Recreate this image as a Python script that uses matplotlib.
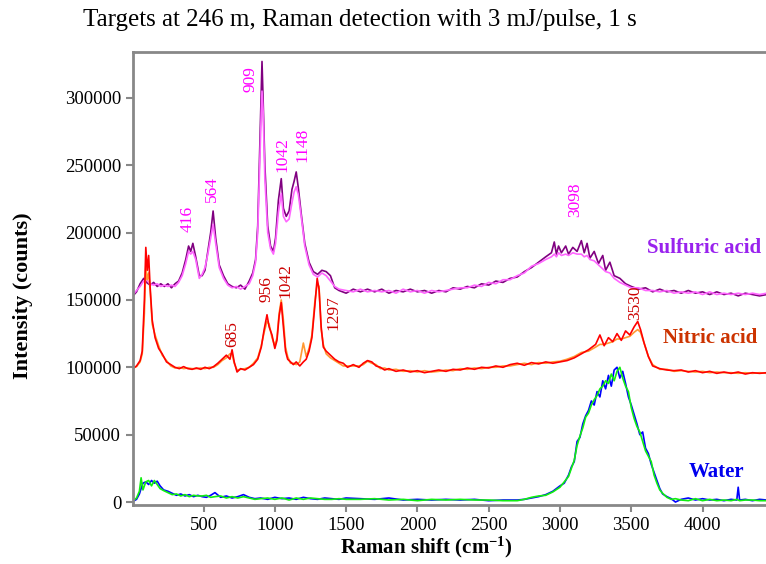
import matplotlib
matplotlib.use("Agg")
import matplotlib.pyplot as plt

plt.rcParams['font.family'] = ['Liberation Serif', 'DejaVu Serif']
plt.rcParams['mathtext.fontset'] = 'custom'
plt.rcParams['mathtext.rm'] = 'Liberation Serif'
plt.rcParams['mathtext.bf'] = 'Liberation Serif:bold'
plt.rcParams['mathtext.default'] = 'bf'

# Sulfuric acid, two acquisitions (dark / light)
S_X = [5, 30, 55, 80, 100, 125, 150, 175, 200, 225,
       250, 275, 300, 325, 350, 375, 395, 410, 425, 445,
       470, 490, 510, 530, 550, 567, 585, 610, 640, 670,
       700, 730, 760, 790, 820, 845, 865, 880, 895, 905,
       910, 918, 930, 950, 970, 990, 1005, 1025, 1045, 1060,
       1080, 1100, 1120, 1135, 1150, 1165, 1185, 1210, 1240, 1270,
       1300, 1330, 1360, 1390, 1420, 1450, 1500, 1550, 1600, 1650,
       1700, 1750, 1800, 1850, 1900, 1950, 2000, 2050, 2100, 2150,
       2200, 2250, 2300, 2350, 2400, 2450, 2500, 2550, 2600, 2650,
       2700, 2750, 2800, 2850, 2900, 2940, 2960, 2975, 2990, 3010,
       3040, 3060, 3090, 3120, 3150, 3170, 3190, 3210, 3240, 3270,
       3300, 3320, 3350, 3380, 3420, 3460, 3500, 3550, 3600, 3650,
       3700, 3750, 3800, 3850, 3900, 3950, 4000, 4050, 4100, 4150,
       4200, 4250, 4300, 4350, 4400, 4450]
S_DARK = [153000, 156000, 162000, 166000, 163000, 161000, 163000, 160000, 162000, 160000,
          162000, 159000, 162000, 164000, 170000, 180000, 190000, 186000, 192000, 182000,
          168000, 168000, 172000, 186000, 200000, 216000, 196000, 176000, 168000, 162000,
          160000, 159000, 161000, 158000, 164000, 170000, 180000, 205000, 265000, 305000,
          327000, 298000, 250000, 205000, 190000, 186000, 196000, 224000, 240000, 218000,
          212000, 216000, 232000, 238000, 245000, 233000, 214000, 192000, 178000, 171000,
          169000, 172000, 171000, 168000, 159000, 157000, 155000, 158000, 156000, 158000,
          156000, 158000, 155000, 157000, 156000, 158000, 156000, 157000, 155000, 157000,
          156000, 159000, 158000, 160000, 159000, 162000, 161000, 164000, 163000, 166000,
          167000, 171000, 174000, 178000, 182000, 185000, 193000, 184000, 190000, 185000,
          190000, 184000, 189000, 186000, 194000, 185000, 192000, 181000, 186000, 177000,
          183000, 172000, 178000, 168000, 166000, 162000, 160000, 158000, 159000, 156000,
          158000, 156000, 157000, 155000, 157000, 155000, 156000, 154000, 156000, 154000,
          155000, 153000, 155000, 154000, 153000, 154000]
S_LIGHT = [154000, 157000, 160000, 164000, 165000, 162000, 161000, 162000, 160000, 161000,
           160000, 161000, 160000, 163000, 168000, 177000, 186000, 184000, 186000, 180000,
           166000, 169000, 174000, 184000, 196000, 206000, 192000, 174000, 166000, 161000,
           159000, 160000, 158000, 160000, 162000, 168000, 178000, 200000, 255000, 290000,
           305000, 290000, 240000, 200000, 188000, 184000, 192000, 215000, 229000, 212000,
           208000, 210000, 222000, 230000, 234000, 228000, 212000, 190000, 176000, 169000,
           167000, 170000, 168000, 164000, 160000, 158000, 157000, 156000, 158000, 156000,
           157000, 156000, 157000, 155000, 158000, 156000, 157000, 155000, 157000, 156000,
           157000, 158000, 159000, 159000, 161000, 160000, 163000, 162000, 165000, 165000,
           168000, 170000, 175000, 177000, 180000, 182000, 184000, 182000, 185000, 183000,
           184000, 183000, 185000, 184000, 184000, 182000, 183000, 180000, 179000, 176000,
           173000, 171000, 170000, 166000, 163000, 161000, 159000, 159000, 157000, 157000,
           156000, 157000, 155000, 156000, 155000, 156000, 154000, 156000, 154000, 155000,
           154000, 155000, 154000, 155000, 154000, 155000]

# Nitric acid (red / orange)
N_X = [5, 30, 55, 70, 85, 95, 105, 115, 125, 140,
       160, 185, 210, 240, 270, 300, 330, 360, 390, 420,
       450, 480, 510, 540, 570, 600, 630, 660, 685, 700,
       715, 735, 760, 790, 820, 850, 880, 905, 925, 945,
       960, 980, 1000, 1015, 1030, 1045, 1060, 1075, 1090, 1110,
       1130, 1150, 1175, 1200, 1220, 1240, 1260, 1280, 1297, 1310,
       1325, 1340, 1360, 1390, 1420, 1450, 1480, 1510, 1550, 1590,
       1620, 1650, 1680, 1710, 1740, 1770, 1800, 1850, 1900, 1950,
       2000, 2050, 2100, 2150, 2200, 2250, 2300, 2350, 2400, 2450,
       2500, 2550, 2600, 2650, 2700, 2750, 2800, 2850, 2900, 2950,
       3000, 3050, 3100, 3150, 3200, 3250, 3280, 3310, 3340, 3370,
       3400, 3430, 3460, 3490, 3520, 3545, 3565, 3590, 3620, 3650,
       3700, 3750, 3800, 3850, 3900, 3950, 4000, 4050, 4100, 4150,
       4200, 4250, 4300, 4350, 4400, 4450]
N_RED = [99000, 101000, 105000, 112000, 150000, 189000, 172000, 183000, 160000, 135000,
         122000, 114000, 110000, 104000, 102000, 100000, 99000, 100500, 99000, 98500,
         99500, 98500, 100000, 99000, 100500, 103000, 106000, 109000, 106000, 113000,
         104000, 96500, 99000, 98000, 100000, 102000, 106000, 115000, 128000, 139000,
         130000, 124000, 114000, 120000, 138000, 148000, 130000, 112000, 106000, 104000,
         102000, 104000, 101000, 104000, 106000, 112000, 122000, 145000, 166000, 158000,
         130000, 115000, 112000, 109000, 106000, 104000, 103000, 100000, 102000, 100000,
         103000, 105000, 104000, 101000, 100000, 98000, 99000, 97000, 98000, 96500,
         97500, 96000, 97000, 98000, 97000, 98500, 98000, 99500, 98500, 100000,
         99500, 101000, 100000, 102000, 103000, 101500, 103500, 102500, 104000, 103000,
         104000, 105000, 107000, 110000, 113000, 117000, 124000, 116000, 122000, 119000,
         125000, 120000, 127000, 124000, 130000, 134000, 128000, 118000, 108000, 101000,
         99000, 98000, 97500, 98000, 96500, 97500, 96000, 97000, 95500, 96500,
         95500, 96500, 95000, 96000, 95500, 96000]
N_ORANGE = [99500, 100500, 104000, 110000, 140000, 175000, 165000, 170000, 158000, 132000,
            124000, 116000, 109000, 105000, 101000, 99500, 100000, 99000, 99500, 99000,
            99000, 99500, 99000, 100000, 100000, 102000, 105000, 107000, 110000, 110000,
            103000, 98000, 98500, 99000, 100000, 103000, 107000, 116000, 126000, 134000,
            132000, 122000, 116000, 122000, 140000, 150000, 135000, 115000, 108000, 103000,
            103000, 102000, 104000, 118000, 108000, 114000, 124000, 148000, 162000, 160000,
            128000, 117000, 110000, 107000, 105000, 103000, 101000, 101000, 101000, 101000,
            102000, 104500, 103000, 102000, 99000, 99500, 98000, 98500, 97000, 97500,
            96500, 97500, 96500, 97000, 98000, 97500, 99000, 98500, 99500, 99000,
            100000, 100000, 101000, 101000, 102000, 103000, 102000, 103500, 103000, 104000,
            104500, 106000, 108000, 111000, 112000, 115000, 117000, 117000, 118000, 119000,
            121000, 121000, 122000, 123000, 126000, 128000, 126000, 118000, 108000, 102000,
            98500, 98500, 97000, 97500, 97000, 96500, 97000, 96000, 96500, 96000,
            96000, 95500, 96000, 95500, 96000, 95500]

# Water (blue / green)
W_X = [5, 30, 50, 62, 75, 95, 115, 135, 155, 175,
       195, 220, 250, 280, 310, 340, 370, 400, 430, 460,
       490, 520, 550, 580, 620, 660, 700, 740, 780, 820,
       860, 900, 950, 1000, 1050, 1100, 1150, 1200, 1250, 1300,
       1350, 1400, 1450, 1500, 1600, 1700, 1800, 1900, 2000, 2100,
       2200, 2300, 2400, 2500, 2600, 2700, 2750, 2800, 2850, 2900,
       2950, 3000, 3030, 3060, 3080, 3100, 3120, 3140, 3160, 3180,
       3200, 3220, 3240, 3260, 3280, 3300, 3320, 3340, 3360, 3380,
       3400, 3420, 3440, 3460, 3480, 3500, 3520, 3540, 3560, 3580,
       3600, 3620, 3640, 3660, 3680, 3700, 3720, 3750, 3780, 3810,
       3850, 3900, 3950, 4000, 4050, 4100, 4150, 4200, 4240, 4250,
       4260, 4300, 4350, 4400, 4450]
W_BLUE = [500, 2000, 6000, 10000, 14000, 15000, 13000, 16000, 14000, 15500,
          12000, 9000, 8000, 6500, 5000, 6000, 4500, 5500, 4000, 5000,
          4000, 3500, 5000, 7000, 3500, 4500, 3000, 4000, 5500, 3500,
          2500, 3000, 2000, 3500, 2500, 3000, 2000, 3500, 2500, 2000,
          3000, 2500, 2000, 3000, 2500, 2000, 3000, 1500, 2000, 1500,
          2000, 1500, 2000, 1000, 1500, 1500, 2000, 3000, 4000, 5500,
          8000, 12000, 14000, 20000, 26000, 30000, 45000, 48000, 58000, 64000,
          68000, 75000, 72000, 82000, 78000, 90000, 84000, 94000, 86000, 98000,
          100000, 92000, 97000, 88000, 78000, 72000, 65000, 58000, 50000, 52000,
          40000, 36000, 28000, 22000, 16000, 10000, 6000, 4000, 2500, 0,
          2000, 3000, 1500, 2500, 1500, 2000, 1000, 2000, 1500, 11000,
          1500, 2000, 1000, 2000, 1500]
W_GREEN = [800, 3000, 8000, 18000, 9000, 15000, 16000, 12000, 16000, 13000,
           10000, 8500, 7000, 5500, 6000, 4500, 5500, 4000, 5000, 4500,
           4500, 5000, 3500, 4000, 4500, 3000, 4000, 3000, 4000, 3000,
           2000, 2500, 3000, 2000, 3000, 1500, 3000, 2000, 3000, 2500,
           2000, 2000, 2500, 2000, 2000, 2500, 1500, 2000, 1000, 2000,
           1500, 2000, 1500, 1500, 1000, 1000, 2000, 3500, 4500, 5000,
           7500, 11000, 15000, 19000, 25000, 31000, 42000, 49000, 55000, 63000,
           66000, 72000, 76000, 79000, 84000, 86000, 90000, 88000, 95000, 90000,
           97000, 100000, 92000, 86000, 82000, 70000, 62000, 56000, 52000, 45000,
           38000, 34000, 30000, 20000, 14000, 9000, 6500, 3500, 2000, 2500,
           1500, 1000, 2500, 1000, 2000, 1000, 1500, 1000, 2000, 1500,
           1000, 1500, 1500, 1000, 1000]

# peak labels: (text, x, y)
S_PEAKS = [("416", 385, 200400), ("564", 561, 222700), ("909", 827, 304400),
           ("1042", 1052, 245000), ("1148", 1192, 252400), ("3098", 3105, 211600)]
N_PEAKS = [("685", 700, 115000), ("956", 940, 148500), ("1042", 1075, 151400),
           ("1297", 1413, 127700), ("3530", 3526, 135100)]

fig = plt.figure(figsize=(7.66, 5.64), dpi=100)
ax = fig.add_axes([0.1736, 0.1046, 0.8264, 0.8032])

ax.plot(S_X, S_DARK, color='#800080', lw=1.2)
ax.plot(S_X, S_LIGHT, color='#ff66ff', lw=1.2)
ax.plot(N_X, N_ORANGE, color='#ff9933', lw=1.2)
ax.plot(N_X, N_RED, color='#ff0000', lw=1.2)
ax.plot(W_X, W_BLUE, color='#0000ff', lw=1.2)
ax.plot(W_X, W_GREEN, color='#11ee11', lw=1.2)

for txt, x, y in S_PEAKS:
    ax.text(x, y, txt, color='#ff00ff', fontsize=12.5, rotation=90, ha='center', va='bottom')
for txt, x, y in N_PEAKS:
    ax.text(x, y, txt, color='#cc0000', fontsize=12.5, rotation=90, ha='center', va='bottom')

ax.text(3610, 188600, "Sulfuric acid", color='#9922ee', fontsize=15, fontweight='bold', va='center')
ax.text(3722, 121800, "Nitric acid", color='#cc3300', fontsize=15, fontweight='bold', va='center')
ax.text(3905, 22300, "Water", color='#0000ee', fontsize=15, fontweight='bold', va='center')

ax.set_xlim(5, 4445)
ax.set_ylim(-2200, 334000)
ax.set_xticks([500, 1000, 1500, 2000, 2500, 3000, 3500, 4000])
ax.set_yticks([0, 50000, 100000, 150000, 200000, 250000, 300000])
ax.tick_params(direction='out', length=5, width=1.5, color='#888888', labelsize=13.5)

for side in ['left', 'bottom', 'top']:
    ax.spines[side].set_color('#888888')
    ax.spines[side].set_linewidth(2)
ax.spines['right'].set_visible(False)

ax.set_xlabel("Raman shift (cm$^{-1}$)", fontsize=15, fontweight='bold')
ax.xaxis.set_label_coords(0.463, -0.065)
ax.set_ylabel("Intensity (counts)", fontsize=16, fontweight='bold')
ax.yaxis.set_label_coords(-0.158, 0.461)

fig.text(360 / 766, 1 - 20 / 564, "Targets at 246 m, Raman detection with 3 mJ/pulse, 1 s",
         fontsize=18, ha='center', va='center')

fig.savefig("out.png", dpi=100)
